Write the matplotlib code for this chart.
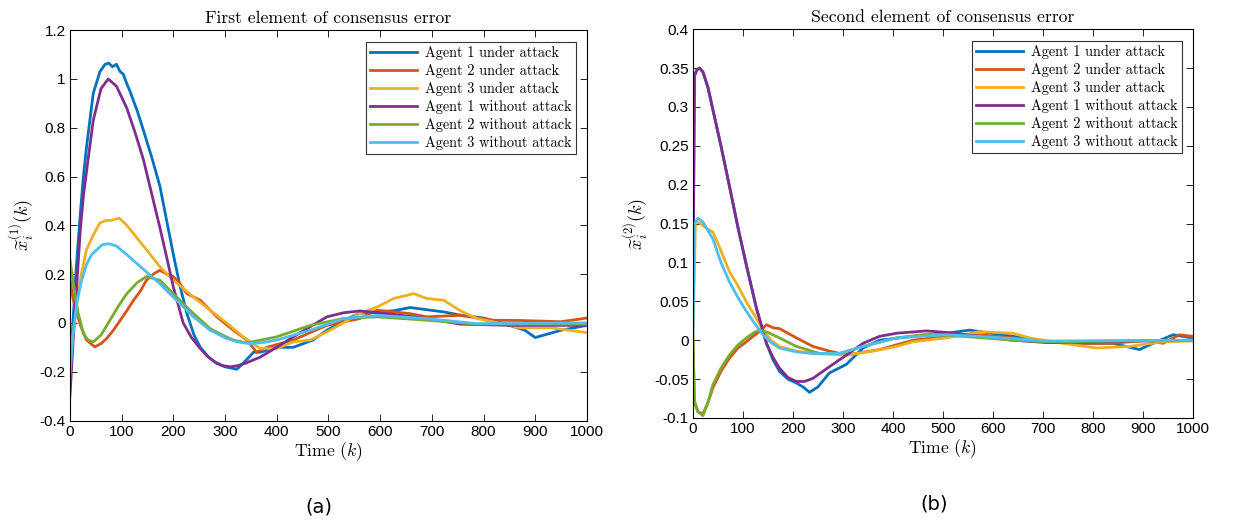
import matplotlib
matplotlib.use("Agg")
import matplotlib.pyplot as plt
from matplotlib.ticker import FixedLocator, FuncFormatter

plt.rcParams['axes.unicode_minus'] = False
plt.rcParams['mathtext.fontset'] = 'cm'

# colores tipo MATLAB
colors = ['#0072BD', '#D95319', '#EDB120', '#7E2F8E', '#77AC30', '#4DBEEE']
labels = ['Agent 1 under attack', 'Agent 2 under attack', 'Agent 3 under attack',
          'Agent 1 without attack', 'Agent 2 without attack', 'Agent 3 without attack']

# ---- Panel (a): primer elemento ----
t_a1_att = [0, 6, 12, 19, 26, 32, 45, 58, 68, 75, 82, 90, 97, 103, 110, 116, 130, 142, 158, 174, 187,
            200, 213, 226, 240, 252, 268, 284, 300, 323, 342, 355, 368, 400, 432, 470, 497, 530, 561,
            626, 658, 723, 760, 800, 850, 880, 900, 950, 1000]
y_a1_att = [-0.2, 0.01, 0.22, 0.42, 0.6, 0.72, 0.94, 1.03, 1.06, 1.065, 1.05, 1.06, 1.03, 1.02, 0.98,
            0.95, 0.87, 0.79, 0.68, 0.56, 0.42, 0.28, 0.15, 0.04, -0.05, -0.1, -0.14, -0.166, -0.18,
            -0.19, -0.15, -0.12, -0.12, -0.1, -0.1, -0.07, -0.03, 0.01, 0.04, 0.05, 0.063, 0.045,
            0.03, 0.02, -0.01, -0.03, -0.06, -0.03, -0.01]
t_a2_att = [0, 6, 13, 22, 32, 48, 60, 71, 84, 97, 110, 123, 136, 148, 161, 174, 187, 200, 213, 226,
            252, 284, 316, 342, 361, 381, 432, 497, 561, 594, 658, 690, 755, 819, 870, 950, 1000]
y_a2_att = [0.18, 0.1, 0.04, -0.02, -0.07, -0.098, -0.085, -0.064, -0.03, 0.01, 0.05, 0.093, 0.13,
            0.175, 0.2, 0.216, 0.2, 0.19, 0.16, 0.12, 0.093, 0.025, -0.03, -0.07, -0.12, -0.1, -0.07,
            -0.01, 0.018, 0.052, 0.038, 0.025, 0.031, 0.011, 0.01, 0.005, 0.02]
t_a3_att = [0, 6, 13, 22, 32, 45, 58, 70, 80, 95, 110, 123, 148, 174, 200, 239, 271, 303, 335, 368,
            400, 432, 465, 497, 529, 561, 594, 626, 665, 690, 723, 755, 787, 819, 870, 930, 1000]
y_a3_att = [-0.15, -0.04, 0.08, 0.2, 0.3, 0.36, 0.41, 0.42, 0.42, 0.43, 0.4, 0.366, 0.3, 0.23,
            0.175, 0.106, 0.052, 0.0, -0.057, -0.105, -0.105, -0.078, -0.07, -0.037, 0.0, 0.04,
            0.065, 0.1, 0.12, 0.1, 0.093, 0.05, 0.018, 0.004, -0.02, -0.02, -0.04]
t_a1_free = [0, 6, 13, 20, 26, 32, 45, 60, 74, 90, 110, 126, 142, 158, 174, 187, 200, 219, 235, 250,
             265, 280, 295, 310, 325, 340, 368, 400, 432, 465, 497, 530, 561, 626, 690, 755, 850, 1000]
y_a1_free = [-0.3, -0.08, 0.15, 0.38, 0.52, 0.62, 0.83, 0.96, 1.0, 0.97, 0.88, 0.78, 0.67, 0.53,
             0.39, 0.27, 0.147, 0.0, -0.06, -0.1, -0.135, -0.16, -0.175, -0.18, -0.175, -0.165,
             -0.14, -0.1, -0.057, -0.015, 0.025, 0.042, 0.049, 0.035, 0.018, -0.005, -0.01, -0.01]
t_a2_free = [0, 6, 11, 16, 26, 35, 45, 60, 77, 94, 110, 130, 148, 174, 206, 239, 271, 295, 316, 342,
             400, 465, 529, 594, 690, 787, 1000]
y_a2_free = [0.26, 0.17, 0.1, 0.04, -0.044, -0.07, -0.078, -0.05, 0.01, 0.07, 0.12, 0.165, 0.19,
             0.175, 0.106, 0.038, -0.023, -0.05, -0.07, -0.082, -0.057, -0.01, 0.018, 0.025, 0.011,
             -0.005, -0.005]
t_a3_free = [0, 6, 13, 22, 32, 42, 52, 62, 75, 90, 110, 142, 174, 206, 239, 271, 303, 325, 348, 375,
             400, 465, 529, 594, 690, 787, 1000]
y_a3_free = [-0.21, -0.05, 0.08, 0.17, 0.24, 0.28, 0.3, 0.32, 0.325, 0.315, 0.28, 0.22, 0.16, 0.093,
             0.025, -0.03, -0.064, -0.078, -0.085, -0.08, -0.07, -0.03, 0.018, 0.031, 0.018,
             -0.003, 0.0]

# ---- Panel (b): segundo elemento ----
t_b1_att = [0, 3, 8, 13, 20, 30, 40, 56, 73, 90, 107, 127, 147, 160, 173, 190, 207, 220, 233, 250,
            273, 307, 340, 373, 440, 507, 553, 640, 707, 773, 840, 893, 920, 960, 1000]
y_b1_att = [0.06, 0.34, 0.348, 0.35, 0.345, 0.325, 0.296, 0.25, 0.198, 0.145, 0.096, 0.041, -0.004,
            -0.025, -0.04, -0.05, -0.055, -0.06, -0.067, -0.06, -0.042, -0.031, -0.01, 0.0, 0.005,
            0.009, 0.013, 0.005, -0.002, -0.004, -0.004, -0.012, -0.004, 0.007, 0.003]
t_b2_att = [0, 3, 10, 20, 30, 40, 56, 73, 90, 107, 120, 133, 147, 160, 173, 190, 207, 240, 273, 307,
            373, 440, 507, 573, 640, 707, 773, 840, 907, 940, 973, 1000]
y_b2_att = [0.0, -0.08, -0.092, -0.095, -0.08, -0.061, -0.04, -0.023, -0.01, -0.002, 0.005, 0.011,
            0.02, 0.016, 0.015, 0.009, 0.003, -0.008, -0.014, -0.019, -0.012, 0.0, 0.005, 0.007,
            0.003, -0.002, -0.004, -0.004, 0.0, -0.004, 0.007, 0.005]
t_b3_att = [0, 5, 15, 25, 40, 56, 73, 90, 107, 125, 140, 156, 173, 207, 240, 307, 360, 407, 440, 507,
            573, 640, 673, 740, 807, 873, 940, 1000]
y_b3_att = [0.0, 0.153, 0.15, 0.145, 0.139, 0.115, 0.088, 0.07, 0.049, 0.03, 0.013, 0.0, -0.008,
            -0.014, -0.017, -0.019, -0.014, -0.008, -0.002, 0.003, 0.011, 0.009, 0.003, -0.004,
            -0.01, -0.008, -0.002, -0.001]
t_b1_free = [0, 3, 8, 13, 20, 30, 40, 56, 73, 90, 107, 127, 147, 160, 173, 190, 207, 223, 240, 273,
             307, 340, 373, 407, 467, 507, 573, 640, 707, 1000]
y_b1_free = [0.06, 0.34, 0.348, 0.35, 0.345, 0.325, 0.296, 0.25, 0.198, 0.145, 0.096, 0.041, -0.004,
             -0.022, -0.036, -0.048, -0.053, -0.053, -0.049, -0.034, -0.019, -0.004, 0.005, 0.009,
             0.012, 0.01, 0.005, 0.0, -0.003, 0.0]
t_b2_free = [0, 3, 10, 20, 30, 40, 56, 73, 90, 107, 120, 133, 150, 173, 207, 253, 293, 340, 407, 473,
             540, 640, 707, 1000]
y_b2_free = [0.0, -0.078, -0.092, -0.097, -0.08, -0.057, -0.036, -0.019, -0.006, 0.003, 0.009,
             0.013, 0.01, 0.003, -0.008, -0.017, -0.017, -0.008, 0.003, 0.008, 0.005, 0.0, -0.002,
             0.0]
t_b3_free = [0, 3, 10, 20, 40, 56, 73, 90, 107, 125, 140, 156, 173, 207, 240, 293, 340, 407, 507,
             573, 640, 707, 1000]
y_b3_free = [0.0, 0.15, 0.157, 0.152, 0.13, 0.1, 0.075, 0.055, 0.037, 0.02, 0.007, -0.003, -0.01,
             -0.015, -0.017, -0.017, -0.008, 0.003, 0.007, 0.005, 0.002, -0.001, 0.0]

panel_a = [(t_a1_att, y_a1_att), (t_a2_att, y_a2_att), (t_a3_att, y_a3_att),
           (t_a1_free, y_a1_free), (t_a2_free, y_a2_free), (t_a3_free, y_a3_free)]
panel_b = [(t_b1_att, y_b1_att), (t_b2_att, y_b2_att), (t_b3_att, y_b3_att),
           (t_b1_free, y_b1_free), (t_b2_free, y_b2_free), (t_b3_free, y_b3_free)]

yticks_a = [-0.4, -0.2, 0, 0.2, 0.4, 0.6, 0.8, 1.0, 1.2]
yticks_b = [-0.1, -0.05, 0, 0.05, 0.1, 0.15, 0.2, 0.25, 0.3, 0.35, 0.4]
xticks = list(range(0, 1001, 100))

fig = plt.figure(figsize=(12.47, 5.24), dpi=100)
ax1 = fig.add_axes([0.0561, 0.1975, 0.4146, 0.745])
ax2 = fig.add_axes([0.5557, 0.2023, 0.401, 0.742])

serif = 'cmr10'


def fmt(v, pos):
    return '%g' % round(v, 4)


def style_axis(ax, data, yticks, title, ylab, tag):
    for (t, y), c, lab in zip(data, colors, labels):
        ax.plot(t, y, color=c, lw=2, label=lab)
    ax.set_xlim(0, 1000)
    ax.set_ylim(yticks[0], yticks[-1])
    ax.xaxis.set_major_locator(FixedLocator(xticks))
    ax.yaxis.set_major_locator(FixedLocator(yticks))
    ax.yaxis.set_major_formatter(FuncFormatter(fmt))
    ax.tick_params(direction='in', top=True, right=True, length=5, width=0.6,
                   labelsize=11, pad=3)
    for lbl in ax.get_xticklabels() + ax.get_yticklabels():
        lbl.set_fontfamily('Liberation Sans')
    for s in ax.spines.values():
        s.set_linewidth(0.8)
    ax.set_title(title, fontfamily=serif, fontsize=12.7, pad=5)
    ax.set_xlabel(r'Time ($k$)', fontfamily=serif, fontsize=12.7, labelpad=1)
    ax.set_ylabel(ylab, fontsize=13, labelpad=2)
    leg = ax.legend(loc='upper right', prop={'family': serif, 'size': 10.3},
                    fancybox=False, edgecolor='#333333', framealpha=1,
                    handlelength=3.3, handletextpad=0.5, labelspacing=0.27,
                    borderaxespad=0.8, borderpad=0.3)
    leg.get_frame().set_linewidth(0.8)
    ax.text(0.482, -0.222, tag, transform=ax.transAxes, ha='center', va='center',
            fontsize=14, fontfamily='DejaVu Sans')


style_axis(ax1, panel_a, yticks_a, 'First element of consensus error',
           r'$\widetilde{x}_i^{(1)}(k)$', '(a)')
style_axis(ax2, panel_b, yticks_b, 'Second element of consensus error',
           r'$\widetilde{x}_i^{(2)}(k)$', '(b)')

fig.savefig('out.png', dpi=100)
